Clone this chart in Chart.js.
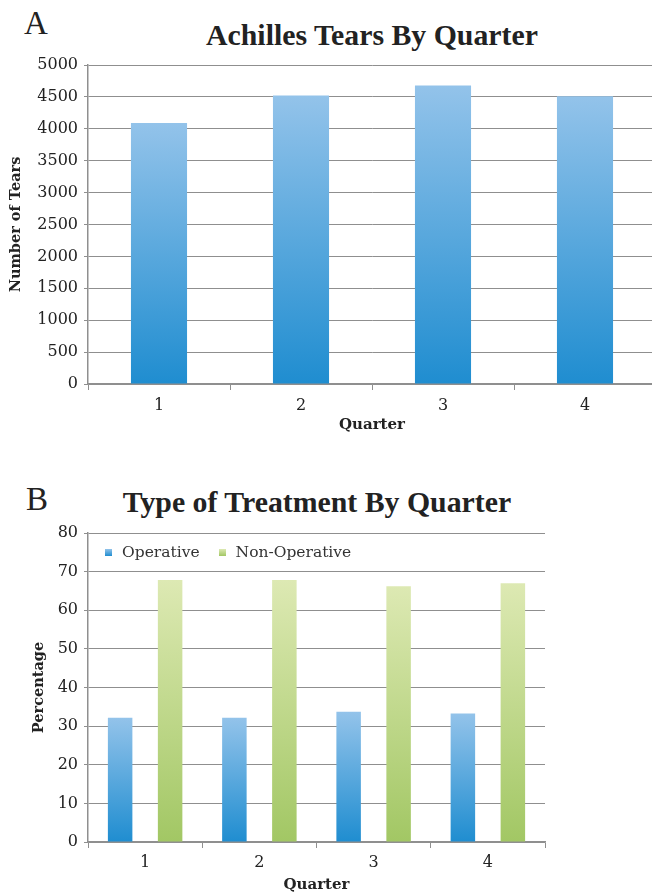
<!DOCTYPE html>
<html><head><meta charset="utf-8">
<script src="https://cdn.jsdelivr.net/npm/chart.js@4.4.0/dist/chart.umd.min.js"></script>
<style>
html,body{margin:0;padding:0;background:#fff;width:652px;height:896px;overflow:hidden;position:relative}
.lbl{position:absolute;font-family:"Liberation Serif",serif;font-size:33px;color:#222;line-height:1}
.ttl{position:absolute;font-family:"Liberation Serif",serif;font-weight:bold;font-size:29.8px;color:#222;white-space:nowrap;transform:translateX(-50%);line-height:1}
#ca{position:absolute;left:0;top:0}
#cb{position:absolute;left:0;top:460px}
#leg{position:absolute;left:105px;top:543px;font-family:"DejaVu Serif",serif;font-size:15.5px;color:#333;white-space:nowrap;line-height:18px}
#leg span.box{display:inline-block;width:7px;height:7px;margin-right:10px;vertical-align:middle;position:relative;top:-1px}
#leg span.item{margin-right:19px}
</style></head>
<body>
<div class="lbl" style="left:24px;top:7px">A</div>
<div class="ttl" style="left:372px;top:20px">Achilles Tears By Quarter</div>
<div class="lbl" style="left:26px;top:483px">B</div>
<div class="ttl" style="left:317px;top:487px">Type of Treatment By Quarter</div>
<canvas id="ca" width="656" height="450"></canvas>
<canvas id="cb" width="652" height="436"></canvas>
<div id="leg"></div>
<script>
// ---- data ----
const quarters = ['1', '2', '3', '4'];
const tears = [4090, 4520, 4680, 4510];
const seriesNames = ['Operative', 'Non-Operative'];
const operative = [32.2, 32.2, 33.7, 33.3];
const nonOperative = [67.8, 67.8, 66.2, 67.0];
const tearsAxis = { min: 0, max: 5000, step: 500 };
const pctAxis = { min: 0, max: 80, step: 10 };

// ---- styles ----
const BLUE = ['#93c3ea', '#1f8dd0'];
const GREEN = ['#dde9b3', '#a2c764'];
const GRID = '#8f8f8f';
const TXT = '#222';
const SERIF = '"DejaVu Serif", serif';

function grad(c) {
  return (ctx) => {
    const chart = ctx.chart;
    if (!chart.chartArea || ctx.type !== 'data') return c[1];
    const ys = chart.scales.y;
    const top = ys.getPixelForValue(ctx.raw);
    const bot = ys.getPixelForValue(0);
    if (!isFinite(top) || !isFinite(bot) || top === bot) return c[1];
    const g = chart.ctx.createLinearGradient(0, top, 0, bot);
    g.addColorStop(0, c[0]);
    g.addColorStop(1, c[1]);
    return g;
  };
}

function xScale(h, tickPad, titlePadB) {
  return {
    grid: { display: true, drawOnChartArea: false, drawTicks: true, tickLength: 6, color: GRID, offset: true },
    border: { color: GRID, width: 1.5 },
    ticks: { font: { family: SERIF, size: 16 }, color: TXT, padding: tickPad },
    title: { display: true, text: 'Quarter', font: { family: SERIF, weight: 'bold', size: 15 }, color: TXT, padding: { top: 0, bottom: titlePadB } },
    afterFit(s) { s.height = h; }
  };
}
function yScale(ax, text, w, titlePadT) {
  return {
    min: ax.min, max: ax.max,
    grid: { color: GRID, lineWidth: 1, tickLength: 4 },
    border: { color: GRID, width: 1.5 },
    ticks: { stepSize: ax.step, font: { family: SERIF, size: 16 }, color: TXT, padding: 6,
             callback: (v) => String(v) },
    title: { display: true, text: text, font: { family: SERIF, weight: 'bold', size: 14.5 }, color: TXT, padding: { top: titlePadT, bottom: 0 } },
    afterFit(s) { s.width = w; }
  };
}

new Chart(document.getElementById('ca'), {
  type: 'bar',
  data: {
    labels: quarters,
    datasets: [{ label: 'Number of Tears', data: tears, backgroundColor: grad(BLUE), barPercentage: 0.395, categoryPercentage: 1 }]
  },
  options: {
    responsive: false, animation: false,
    layout: { padding: { top: 65, right: 0, bottom: 0, left: 0 } },
    plugins: { legend: { display: false }, tooltip: { enabled: false } },
    scales: { x: xScale(66, 6, 16), y: yScale(tearsAxis, 'Number of Tears', 88, 8) }
  }
});

new Chart(document.getElementById('cb'), {
  type: 'bar',
  data: {
    labels: quarters,
    datasets: [
      { label: seriesNames[0], data: operative, backgroundColor: grad(BLUE), barPercentage: 0.49, categoryPercentage: 0.875 },
      { label: seriesNames[1], data: nonOperative, backgroundColor: grad(GREEN), barPercentage: 0.49, categoryPercentage: 0.875 }
    ]
  },
  options: {
    responsive: false, animation: false,
    layout: { padding: { top: 73, right: 107, bottom: 0, left: 0 } },
    plugins: { legend: { display: false }, tooltip: { enabled: false } },
    scales: { x: xScale(54, 5, 2), y: yScale(pctAxis, 'Percentage', 88, 31) }
  }
});

// HTML legend built from the series names
const leg = document.getElementById('leg');
seriesNames.forEach((n, i) => {
  const it = document.createElement('span');
  it.className = 'item';
  const b = document.createElement('span');
  b.className = 'box';
  const c = i === 0 ? BLUE : GREEN;
  b.style.background = 'linear-gradient(' + c[0] + ',' + c[1] + ')';
  it.appendChild(b);
  it.appendChild(document.createTextNode(n));
  leg.appendChild(it);
});
</script>
</body></html>
